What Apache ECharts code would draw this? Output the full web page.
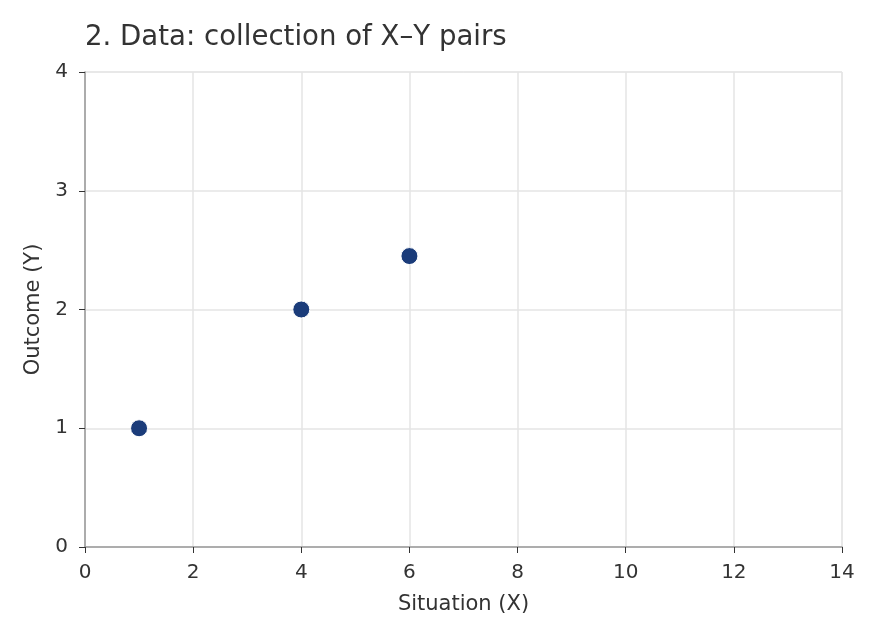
<!DOCTYPE html>
<html>
  <head>
    <meta charset="utf-8" />
    <title>2. Data: collection of X–Y pairs</title>
    <script src="https://cdn.jsdelivr.net/npm/echarts@6/dist/echarts.min.js"></script>
  </head>
  <body style="margin:0;padding:0;background:#fff;">
    <div id="chart" style="width:880px;height:640px;"></div>
    <script type="text/javascript">
      // data
      var xValues = [1, 4, 6];
      var yValues = [1, 2, 2.45];
      var titleText = '2. Data: collection of X\u2013Y pairs';
      var xName = 'Situation (X)';
      var yName = 'Outcome (Y)';

      var points = [];
      for (var i = 0; i < xValues.length; i++) points.push([xValues[i], yValues[i]]);

      var font = 'DejaVu Sans';
      var chart = echarts.init(document.getElementById('chart'), null, { renderer: 'canvas' });
      chart.setOption({
        animation: false,
        textStyle: { fontFamily: font },
        title: {
          text: titleText,
          left: 80, top: 19,
          textStyle: { fontFamily: font, fontSize: 27.6, fontWeight: 'normal', color: '#333' }
        },
        grid: { left: 85, right: 38, top: 72, bottom: 93, show: true, borderColor: '#ebebeb', borderWidth: 1 },
        xAxis: {
          type: 'value', min: 0, max: 14, interval: 2,
          name: xName, nameLocation: 'middle', nameGap: 47,
          nameTextStyle: { fontSize: 21, color: '#333', fontFamily: font },
          axisLine: { show: true, lineStyle: { color: '#999', width: 1.5 } },
          axisTick: { show: true, length: 6, lineStyle: { color: '#333' } },
          axisLabel: { fontSize: 20, color: '#333', margin: 16, fontFamily: font },
          splitLine: { show: true, lineStyle: { color: '#e5e5e5', width: 1.5 } }
        },
        yAxis: {
          type: 'value', min: 0, max: 4, interval: 1,
          name: yName, nameLocation: 'middle', nameGap: 41,
          nameTextStyle: { fontSize: 21, color: '#333', fontFamily: font },
          axisLine: { show: true, lineStyle: { color: '#999', width: 1.5 } },
          axisTick: { show: true, length: 6, lineStyle: { color: '#333' } },
          axisLabel: { fontSize: 20, color: '#333', margin: 17, fontFamily: font },
          splitLine: { show: true, lineStyle: { color: '#e5e5e5', width: 1.5 } }
        },
        series: [{
          type: 'scatter',
          data: points,
          symbolSize: 17,
          itemStyle: { color: '#1b3c7a', opacity: 1, borderColor: '#fff', borderWidth: 1 }
        }]
      });
    </script>
  </body>
</html>
